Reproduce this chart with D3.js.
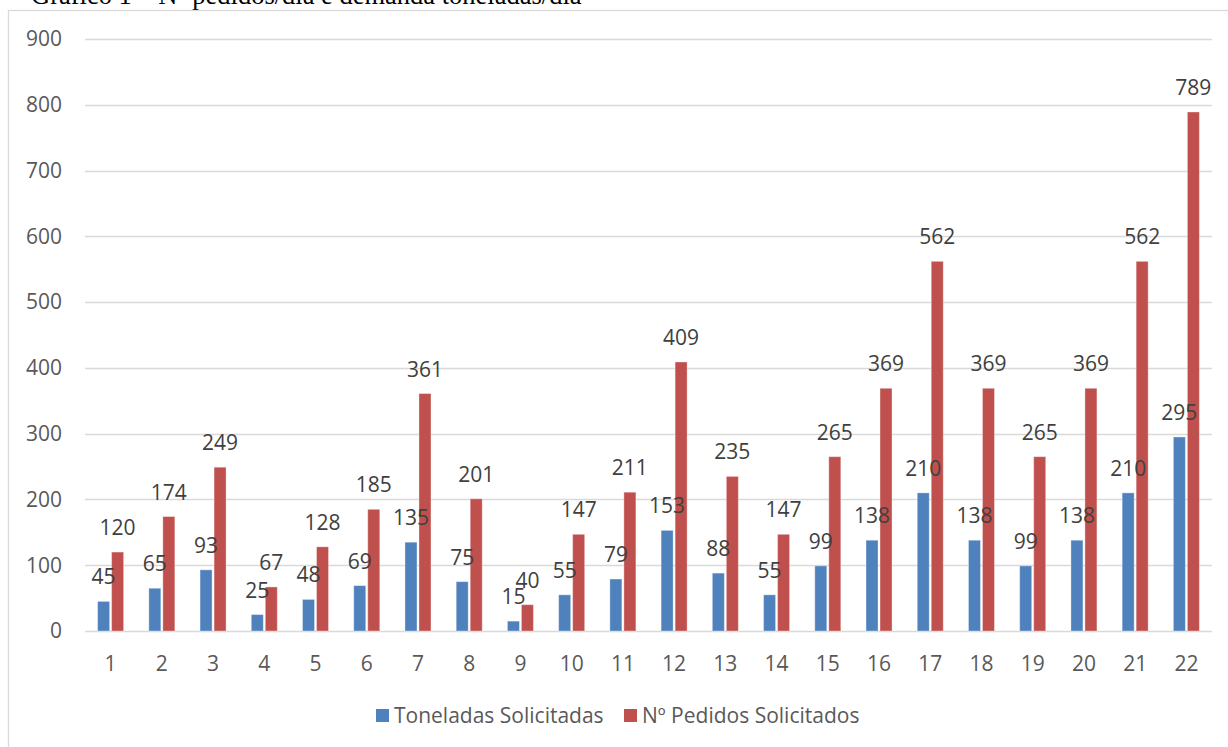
<html>
<head>
<meta charset="utf-8">
<style>
  body { margin: 0; background: #fff; }
  svg text { font-family: "Open Sans", "Liberation Sans", sans-serif; }
</style>
</head>
<body>
<script src="https://cdn.jsdelivr.net/npm/d3@7/dist/d3.min.js"></script>
<svg width="1228" height="747"></svg>
<script>
// data
var dias = d3.range(1, 23).map(String);
var toneladas = [45, 65, 93, 25, 48, 69, 135, 75, 15, 55, 79, 153, 88, 55, 99, 138, 210, 138, 99, 138, 210, 295];
var pedidos = [120, 174, 249, 67, 128, 185, 361, 201, 40, 147, 211, 409, 235, 147, 265, 369, 562, 369, 265, 369, 562, 789];
var yTicks = [0, 100, 200, 300, 400, 500, 600, 700, 800, 900];
var series = [
  {name: "Toneladas Solicitadas", values: toneladas, color: "#4F81BD"},
  {name: "Nº Pedidos Solicitados", values: pedidos, color: "#C0504D"}
];

var svg = d3.select("svg");

// title, partly cut off at the top
svg.append("text")
  .attr("x", 31).attr("y", 4)
  .style("font-family", "'Liberation Serif', 'Times New Roman', serif")
  .style("font-size", "26.5px")
  .attr("fill", "#000")
  .text("Gráfico 1 – Nº pedidos/dia e demanda toneladas/dia");

// chart frame
svg.append("rect")
  .attr("x", 8.5).attr("y", 10.5)
  .attr("width", 1240).attr("height", 760)
  .attr("fill", "#fff").attr("stroke", "#D9D9D9").attr("stroke-width", 1.3);

var plotL = 85, plotR = 1212, plotT = 39, plotB = 631;

var x = d3.scaleBand().domain(dias).range([plotL, plotR]);
var y = d3.scaleLinear().domain([0, 900]).range([plotB, plotT]);

// gridlines
svg.append("g").selectAll("line")
  .data(yTicks).enter().append("line")
  .attr("x1", plotL).attr("x2", plotR)
  .attr("y1", function(d) { return Math.round(y(d)) + 0.5; })
  .attr("y2", function(d) { return Math.round(y(d)) + 0.5; })
  .attr("stroke", "#D9D9D9").attr("stroke-width", 1.3);

// y labels
svg.append("g").selectAll("text")
  .data(yTicks).enter().append("text")
  .attr("x", 62).attr("y", function(d) { return y(d); })
  .attr("dy", "0.35em")
  .attr("text-anchor", "end")
  .attr("fill", "#595959")
  .style("font-size", "21px")
  .text(function(d) { return d; });

// x labels
svg.append("g").selectAll("text")
  .data(dias).enter().append("text")
  .attr("x", function(d) { return x(d) + x.bandwidth() / 2; })
  .attr("y", 664).attr("dy", "0.35em")
  .attr("text-anchor", "middle")
  .attr("fill", "#595959")
  .style("font-size", "21px")
  .text(function(d) { return d; });

var barW = 12, gap = 2;
function offset(si) { return si === 0 ? -gap / 2 - barW : gap / 2; }

// bars first
series.forEach(function(s, si) {
  svg.append("g").selectAll("rect")
    .data(s.values).enter().append("rect")
    .attr("x", function(d, i) { return x(dias[i]) + x.bandwidth() / 2 + offset(si); })
    .attr("y", function(d) { return y(d); })
    .attr("width", barW)
    .attr("height", function(d) { return plotB - y(d); })
    .attr("fill", s.color)
    .attr("stroke", "#fff").attr("stroke-opacity", 0.35).attr("stroke-width", 1);
});

// then data labels on top
series.forEach(function(s, si) {
  svg.append("g").selectAll("text")
    .data(s.values).enter().append("text")
    .attr("x", function(d, i) { return x(dias[i]) + x.bandwidth() / 2 + offset(si) + barW / 2; })
    .attr("y", function(d) { return y(d) - 17; })
    .attr("text-anchor", "middle")
    .attr("fill", "#404040")
    .style("font-size", "21px")
    .text(function(d) { return d; });
});

// legend
var legX = [376, 624];
series.forEach(function(s, i) {
  svg.append("rect")
    .attr("x", legX[i]).attr("y", 709)
    .attr("width", 13).attr("height", 13)
    .attr("fill", s.color);
  svg.append("text")
    .attr("x", legX[i] + 18).attr("y", 716).attr("dy", "0.35em")
    .attr("fill", "#595959")
    .style("font-size", "21px")
    .text(s.name);
});
</script>
</body>
</html>
